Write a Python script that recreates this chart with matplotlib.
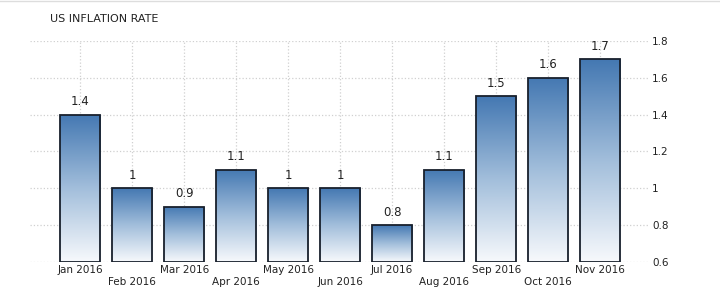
# US inflation rate 2016, gradient bars
import numpy as np
import matplotlib.pyplot as plt
from matplotlib.colors import LinearSegmentedColormap

months = ['Jan 2016', 'Feb 2016', 'Mar 2016', 'Apr 2016', 'May 2016', 'Jun 2016',
          'Jul 2016', 'Aug 2016', 'Sep 2016', 'Oct 2016', 'Nov 2016']
rates = [1.4, 1.0, 0.9, 1.1, 1.0, 1.0, 0.8, 1.1, 1.5, 1.6, 1.7]
rate_labels = ['1.4', '1', '0.9', '1.1', '1', '1', '0.8', '1.1', '1.5', '1.6', '1.7']
yticks = [0.6, 0.8, 1.0, 1.2, 1.4, 1.6, 1.8]
ytick_labels = ['0.6', '0.8', '1', '1.2', '1.4', '1.6', '1.8']

fig = plt.figure(figsize=(7.2, 2.9), dpi=100)
ax = fig.add_axes([0.042, 0.097, 0.858, 0.762])

x = np.arange(len(months))
ymin, ymax = 0.6, 1.8
xlim = (-0.96, len(months) - 1 + 0.92)

cmap = LinearSegmentedColormap.from_list('blu', ['#f7f9fc', '#a2bedb', '#4478b2'])
grad = np.linspace(0, 1, 256).reshape(-1, 1)
bars = ax.bar(x, [r - ymin for r in rates], bottom=ymin, width=0.77,
              facecolor='none', edgecolor='#18202c', linewidth=1.3, zorder=3)
for b, r in zip(bars, rates):
    x0 = b.get_x()
    im = ax.imshow(grad, cmap=cmap, aspect='auto', origin='lower',
                   extent=[x0, x0 + b.get_width(), ymin, r], zorder=2)
    im.set_clip_path(b)
ax.set_xlim(*xlim)
ax.set_ylim(ymin, ymax)

for xi, r, lab in zip(x, rates, rate_labels):
    ax.text(xi, r + 0.035, lab, ha='center', va='bottom', fontsize=8.5, color='#222222')

ax.set_xticks(x)
ax.set_xticklabels([])
for xi, m in enumerate(months):
    ax.text(xi, -0.035 if xi % 2 == 0 else -0.09, m, transform=ax.get_xaxis_transform(),
            ha='center', va='center', fontsize=7.5, color='#222222')

ax.set_yticks(yticks)
ax.set_yticklabels(ytick_labels, fontsize=7.5, color='#222222')
ax.yaxis.tick_right()
ax.tick_params(axis='both', length=0)
ax.tick_params(axis='y', pad=3)

ax.grid(True, color='#d0d0d0', linestyle=':', linewidth=0.9, zorder=0)
ax.set_axisbelow(True)
for s in ax.spines.values():
    s.set_visible(False)

fig.text(0.07, 0.935, 'US INFLATION RATE', fontsize=8, color='#222222', va='center')
fig.add_artist(plt.Line2D([0, 1], [0.995, 0.995], color='#dddddd', linewidth=1))

fig.savefig('out.png', dpi=100)
